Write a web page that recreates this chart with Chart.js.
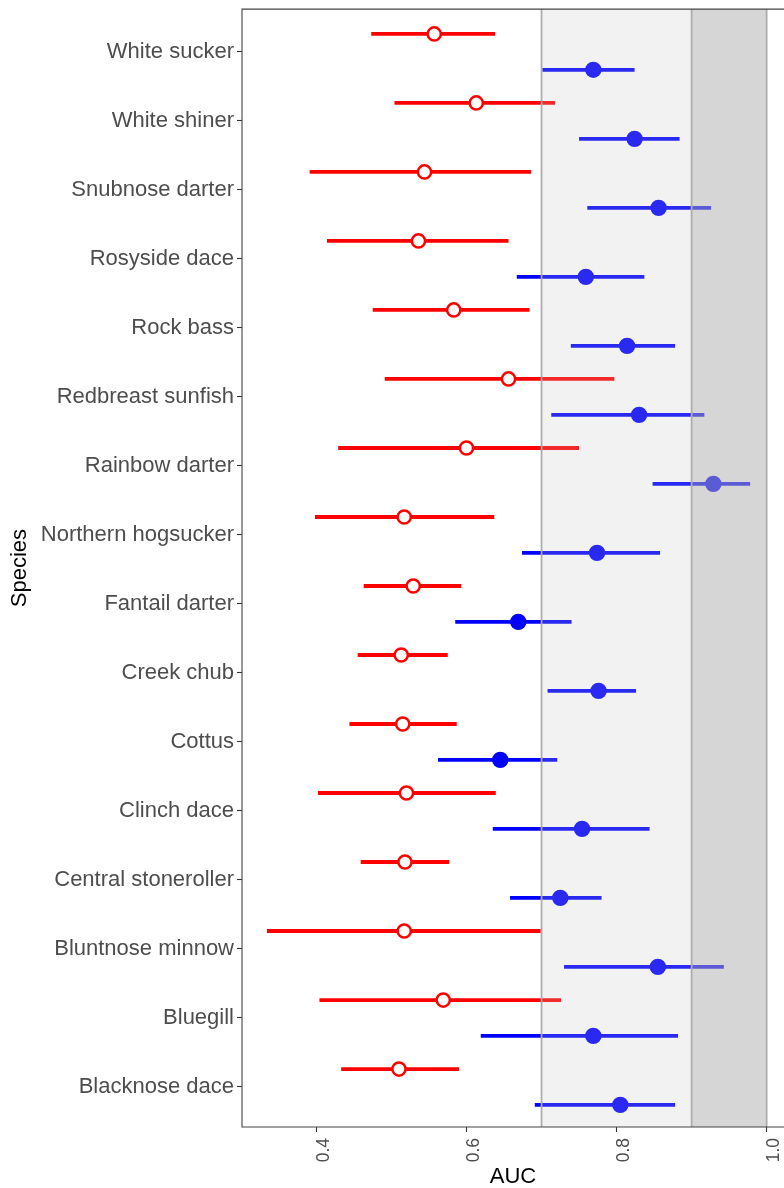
<!DOCTYPE html>
<html>
<head>
<meta charset="utf-8">
<title>AUC by species</title>
<script src="https://cdn.jsdelivr.net/npm/chart.js@4.4.1/dist/chart.umd.min.js"></script>
<style>
  html, body { margin: 0; padding: 0; background: #fff; overflow: hidden; }
  canvas { display: block; }
</style>
</head>
<body>
<!-- a few px wider than the window: Chart.js keeps room right of the last rotated tick label -->
<canvas id="aucChart" width="793" height="1188"></canvas>
<script>
// species, listed top to bottom
const species = [
    "White sucker", "White shiner", "Snubnose darter", "Rosyside dace",
    "Rock bass", "Redbreast sunfish", "Rainbow darter", "Northern hogsucker",
    "Fantail darter", "Creek chub", "Cottus", "Clinch dace",
    "Central stoneroller", "Bluntnose minnow", "Bluegill", "Blacknose dace"
];

// red (open circles): AUC with lower / upper interval
const redLow  = [0.473, 0.504, 0.391, 0.414, 0.475, 0.491, 0.429, 0.398, 0.463, 0.455, 0.444, 0.402, 0.459, 0.334, 0.404, 0.433];
const redAuc  = [0.557, 0.613, 0.544, 0.536, 0.583, 0.656, 0.600, 0.517, 0.529, 0.513, 0.515, 0.520, 0.518, 0.517, 0.569, 0.510];
const redHigh = [0.638, 0.718, 0.686, 0.656, 0.684, 0.797, 0.750, 0.637, 0.593, 0.575, 0.587, 0.639, 0.577, 0.699, 0.726, 0.590];

// blue (filled circles)
const blueLow  = [0.701, 0.750, 0.761, 0.667, 0.739, 0.713, 0.848, 0.674, 0.585, 0.708, 0.562, 0.635, 0.658, 0.730, 0.619, 0.691];
const blueAuc  = [0.769, 0.824, 0.856, 0.759, 0.814, 0.830, 0.929, 0.774, 0.669, 0.776, 0.645, 0.754, 0.725, 0.855, 0.769, 0.805];
const blueHigh = [0.824, 0.884, 0.926, 0.837, 0.878, 0.917, 0.978, 0.858, 0.740, 0.826, 0.721, 0.844, 0.780, 0.943, 0.882, 0.878];

const xTicks = [0.4, 0.6, 0.8, 1.0];
// shaded AUC bands and their edge lines
const bandEdges = [0.7, 0.9, 1.0];

const FONT = "'Liberation Sans', Arial, sans-serif";
const DODGE = 0.26;

function whiskerPoints(low, high, shift) {
    const pts = [];
    species.forEach((s, i) => {
        pts.push({ x: low[i], y: i + shift });
        pts.push({ x: high[i], y: i + shift });
        pts.push({ x: null, y: null }); // break the line
    });
    return pts;
}

function centerPoints(values, shift) {
    return values.map((v, i) => ({ x: v, y: i + shift }));
}

// grey bands drawn over the marks, then reference lines and panel frame
const bandOverlay = {
    id: 'bandOverlay',
    afterDatasetsDraw(chart) {
        const { ctx, chartArea: a, scales: { x } } = chart;
        const p = bandEdges.map(v => x.getPixelForValue(v));
        ctx.save();
        ctx.fillStyle = 'rgba(192,192,192,0.21)';
        ctx.fillRect(p[0], a.top, p[2] - p[0], a.bottom - a.top);
        ctx.fillStyle = 'rgba(169,169,169,0.39)';
        ctx.fillRect(p[1], a.top, p[2] - p[1], a.bottom - a.top);

        ctx.strokeStyle = '#adadad';
        ctx.lineWidth = 1.8;
        p.forEach(px => {
            ctx.beginPath();
            ctx.moveTo(px, a.top);
            ctx.lineTo(px, a.bottom);
            ctx.stroke();
        });

        ctx.strokeStyle = '#444';
        ctx.lineWidth = 1.1;
        ctx.beginPath();
        ctx.moveTo(a.right + 2, a.top);
        ctx.lineTo(a.left, a.top);
        ctx.lineTo(a.left, a.bottom);
        ctx.lineTo(a.right + 2, a.bottom);
        ctx.stroke();
        ctx.restore();
    }
};

const ctx = document.getElementById('aucChart').getContext('2d');
const aucChart = new Chart(ctx, {
    type: 'scatter',
    data: {
        datasets: [
            {
                label: 'red interval',
                data: whiskerPoints(redLow, redHigh, -DODGE),
                showLine: true,
                spanGaps: false,
                borderColor: '#ff0000',
                borderWidth: 3.8,
                pointRadius: 0,
                order: 4
            },
            {
                label: 'red AUC',
                data: centerPoints(redAuc, -DODGE),
                showLine: false,
                pointRadius: 6.6,
                pointBorderWidth: 2.5,
                pointBackgroundColor: '#ffffff',
                pointBorderColor: '#ff0000',
                order: 3
            },
            {
                label: 'blue interval',
                data: whiskerPoints(blueLow, blueHigh, DODGE),
                showLine: true,
                spanGaps: false,
                borderColor: '#0000ff',
                borderWidth: 3.8,
                pointRadius: 0,
                order: 2
            },
            {
                label: 'blue AUC',
                data: centerPoints(blueAuc, DODGE),
                showLine: false,
                pointRadius: 8.2,
                pointBorderWidth: 0,
                pointBackgroundColor: '#0000ff',
                pointBorderColor: '#0000ff',
                order: 1
            }
        ]
    },
    options: {
        responsive: false,
        maintainAspectRatio: false,
        animation: false,
        devicePixelRatio: 1,
        events: [],
        layout: { padding: { top: 8, right: 0, bottom: 0, left: 0 } },
        plugins: {
            legend: { display: false },
            tooltip: { enabled: false }
        },
        scales: {
            x: {
                type: 'linear',
                min: 0.3008,
                max: 1.023,
                afterBuildTicks: (scale) => {
                    scale.ticks = xTicks.map(v => ({ value: v }));
                },
                afterFit: (scale) => {
                    scale.height = 61;
                    scale.paddingLeft = 0;
                    scale.paddingRight = 0;
                },
                ticks: {
                    autoSkip: false,
                    minRotation: 90,
                    maxRotation: 90,
                    padding: 6,
                    labelOffset: 8,
                    color: '#4d4d4d',
                    font: { family: FONT, size: 17.5 },
                    callback: (v) => Number(v).toFixed(1)
                },
                grid: {
                    drawOnChartArea: false,
                    tickLength: 5,
                    tickColor: '#333',
                    tickWidth: 1.1
                },
                border: { display: false },
                title: {
                    display: true,
                    text: 'AUC',
                    color: '#000',
                    font: { family: FONT, size: 22, lineHeight: 1.0 },
                    padding: { top: 0, bottom: 0 }
                }
            },
            y: {
                type: 'linear',
                reverse: true,
                min: -0.62,
                max: 15.58,
                afterBuildTicks: (scale) => {
                    scale.ticks = species.map((s, i) => ({ value: i }));
                },
                afterFit: (scale) => {
                    scale.width = 242;
                    scale.paddingTop = 0;
                    scale.paddingBottom = 0;
                },
                ticks: {
                    autoSkip: false,
                    padding: 3,
                    color: '#4d4d4d',
                    font: { family: FONT, size: 22 },
                    callback: (v) => species[Math.round(v)]
                },
                grid: {
                    drawOnChartArea: false,
                    tickLength: 5,
                    tickColor: '#333',
                    tickWidth: 1.1
                },
                border: { display: false },
                title: {
                    display: true,
                    text: 'Species',
                    color: '#000',
                    font: { family: FONT, size: 22, lineHeight: 1.0 },
                    padding: { top: 9, bottom: 0 }
                }
            }
        }
    },
    plugins: [bandOverlay]
});
</script>
</body>
</html>
